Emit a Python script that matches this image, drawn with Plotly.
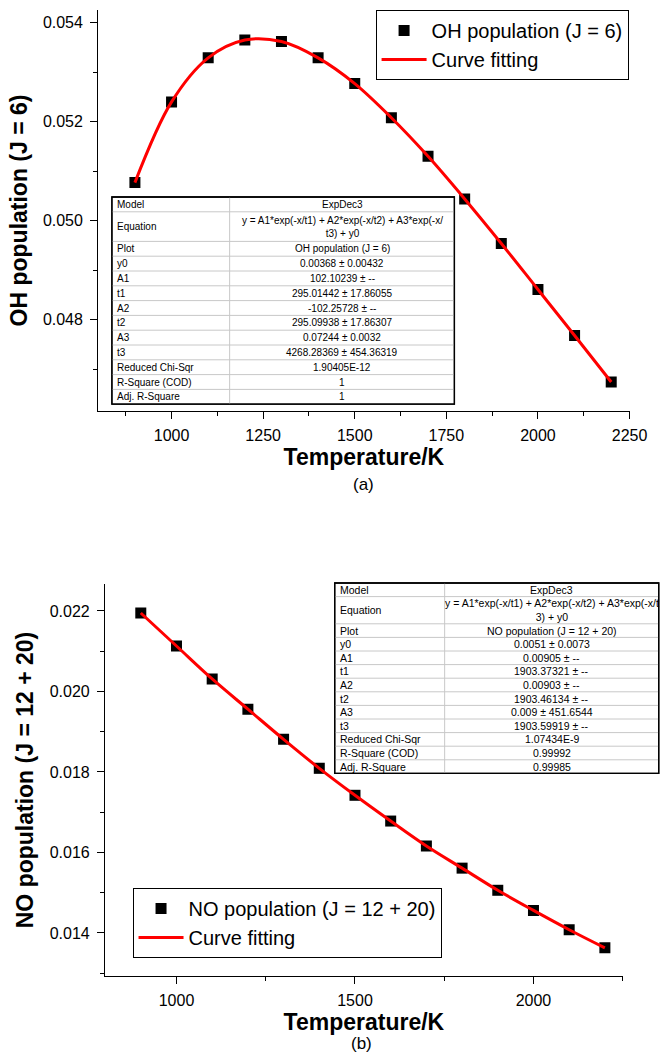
import plotly.graph_objects as go

# ---------------- data ----------------
temperature = [900, 1000, 1100, 1200, 1300, 1400, 1500, 1600, 1700, 1800, 1900, 2000, 2100, 2200]

oh_population = [0.05077, 0.05240, 0.05329, 0.05365, 0.05362, 0.05329, 0.05277,
                 0.05208, 0.05130, 0.05044, 0.04954, 0.04861, 0.04768, 0.04674]

no_population = [0.02195, 0.02113, 0.02031, 0.01956, 0.01881, 0.01809, 0.01742,
                 0.01678, 0.01616, 0.01561, 0.01506, 0.01456, 0.01408, 0.01363]

table_labels = ["Model", "Equation", "Plot", "y0", "A1", "t1", "A2", "t2", "A3", "t3",
                "Reduced Chi-Sqr", "R-Square (COD)", "Adj. R-Square"]

oh_table_values = ["ExpDec3",
                   "y = A1*exp(-x/t1) + A2*exp(-x/t2) + A3*exp(-x/<br>t3) + y0",
                   "OH population (J = 6)", "0.00368 ± 0.00432", "102.10239 ± --",
                   "295.01442 ± 17.86055", "-102.25728 ± --", "295.09938 ± 17.86307",
                   "0.07244 ± 0.0032", "4268.28369 ± 454.36319", "1.90405E-12", "1", "1"]

no_table_values = ["ExpDec3",
                   "y = A1*exp(-x/t1) + A2*exp(-x/t2) + A3*exp(-x/t<br>3) + y0",
                   "NO population (J = 12 + 20)", "0.0051 ± 0.0073", "0.00905 ± --",
                   "1903.37321 ± --", "0.00903 ± --", "1903.46134 ± --",
                   "0.009 ± 451.6544", "1903.59919 ± --", "1.07434E-9", "0.99992", "0.99985"]

# ---------------- layout helpers ----------------
W, H = 667, 1055
FONT = "Liberation Sans, Arial, sans-serif"


def px(x):
    return x / W


def py(y):
    return 1 - y / H


fig = go.Figure()

# panel (a): OH
fig.add_trace(go.Scatter(x=temperature, y=oh_population, mode="markers",
                         name="OH population (J = 6)",
                         marker=dict(symbol="square", size=11, color="black"),
                         xaxis="x", yaxis="y", legend="legend"))
fig.add_trace(go.Scatter(x=temperature, y=oh_population, mode="lines",
                         name="Curve fitting",
                         line=dict(color="#ff0000", width=3, shape="spline", smoothing=1),
                         xaxis="x", yaxis="y", legend="legend"))

# panel (b): NO
fig.add_trace(go.Scatter(x=temperature, y=no_population, mode="markers",
                         name="NO population (J = 12 + 20)",
                         marker=dict(symbol="square", size=11, color="black"),
                         xaxis="x2", yaxis="y2", legend="legend2"))
fig.add_trace(go.Scatter(x=temperature, y=no_population, mode="lines",
                         name="Curve fitting",
                         line=dict(color="#ff0000", width=3, shape="spline", smoothing=1),
                         xaxis="x2", yaxis="y2", legend="legend2"))

axis_common = dict(showline=True, linecolor="black", linewidth=1.3, mirror=False,
                   showgrid=False, zeroline=False, ticks="outside", ticklen=7,
                   tickwidth=1.2, tickcolor="black",
                   tickfont=dict(family=FONT, size=16, color="black"))

minor_common = dict(ticklen=4, ticks="outside", tickcolor="black", tickwidth=1.2, showgrid=False)

title_font = dict(family=FONT, size=23, color="black", weight="bold")
legend_font = dict(family=FONT, size=20, color="black")

fig.update_layout(
    width=W, height=H, autosize=False,
    margin=dict(l=0, r=0, t=0, b=0),
    paper_bgcolor="white", plot_bgcolor="white",
    font=dict(family=FONT, color="black"),
    showlegend=True,
    xaxis=dict(domain=[px(101), px(647)], range=[800, 2250], tick0=1000, dtick=250,
               anchor="y", ticklabelstandoff=3,
               minor=dict(dtick=125, tick0=1000, **minor_common),
               title=dict(text="Temperature/K", font=title_font, standoff=3),
               **axis_common),
    yaxis=dict(domain=[py(411), py(10)], range=[0.046155, 0.054257], tick0=0.046, dtick=0.002,
               tickformat=".3f", anchor="x", ticklabelstandoff=4,
               minor=dict(dtick=0.001, tick0=0.046, **minor_common),
               title=dict(text="OH population (J = 6)", font=title_font, standoff=8),
               **axis_common),
    xaxis2=dict(domain=[px(108), px(640)], range=[800, 2250], tick0=1000, dtick=500,
                anchor="y2", ticklabelstandoff=3,
                minor=dict(dtick=250, tick0=1000, **minor_common),
                title=dict(text="Temperature/K", font=title_font, standoff=2),
                **axis_common),
    yaxis2=dict(domain=[py(976), py(584)], range=[0.01293, 0.02267], tick0=0.014, dtick=0.002,
                tickformat=".3f", anchor="x2", ticklabelstandoff=4,
                minor=dict(dtick=0.001, tick0=0.014, **minor_common),
                title=dict(text="NO population (J = 12 + 20)", font=title_font, standoff=9),
                **axis_common),
    legend=dict(x=px(516), y=py(45), xanchor="center", yanchor="middle",
                bordercolor="black", borderwidth=1, bgcolor="white", itemwidth=45,
                font=legend_font, tracegroupgap=0),
    legend2=dict(x=px(295), y=py(923), xanchor="center", yanchor="middle",
                 bordercolor="black", borderwidth=1, bgcolor="white", itemwidth=45,
                 font=legend_font, tracegroupgap=0),
)

# panel captions
fig.add_annotation(text="(a)", x=px(374), y=py(484), xref="paper", yref="paper",
                   showarrow=False, font=dict(family=FONT, size=17, color="black"))
fig.add_annotation(text="(b)", x=px(372), y=0, xref="paper", yref="paper",
                   xanchor="center", yanchor="bottom", showarrow=False,
                   font=dict(family=FONT, size=17, color="black"))


def add_fit_table(labels, values, left, divider, right, top, unit, font_size):
    """Fit-report table drawn with shapes and annotations (pixel geometry)."""
    heights = [2 if lab == "Equation" else 1 for lab in labels]
    bottom = top + unit * sum(heights)
    fig.add_shape(type="rect", xref="paper", yref="paper",
                  x0=px(left), x1=px(right), y0=py(bottom), y1=py(top),
                  fillcolor="white", line=dict(color="black", width=1.3), layer="above")
    y = top
    for i, (lab, val, h) in enumerate(zip(labels, values, heights)):
        y_next = y + unit * h
        if i < len(labels) - 1:
            fig.add_shape(type="line", xref="paper", yref="paper",
                          x0=px(left), x1=px(right), y0=py(y_next), y1=py(y_next),
                          line=dict(color="#c8c8c8", width=1), layer="above")
        mid = (y + y_next) / 2
        fig.add_annotation(text=lab, x=px(left + 3), y=py(mid), xref="paper", yref="paper",
                           xanchor="left", yanchor="middle", showarrow=False,
                           font=dict(family=FONT, size=font_size, color="black"))
        fig.add_annotation(text=val, x=px((divider + right) / 2), y=py(mid),
                           xref="paper", yref="paper", xanchor="center", yanchor="middle",
                           showarrow=False,
                           font=dict(family=FONT, size=font_size, color="black"))
        y = y_next
    fig.add_shape(type="line", xref="paper", yref="paper",
                  x0=px(divider), x1=px(divider), y0=py(bottom), y1=py(top),
                  line=dict(color="#c8c8c8", width=1), layer="above")
    # outer frame on top of the inner rules
    fig.add_shape(type="rect", xref="paper", yref="paper",
                  x0=px(left), x1=px(right), y0=py(bottom), y1=py(top),
                  line=dict(color="black", width=1.3), layer="above")


add_fit_table(table_labels, oh_table_values, 115, 236, 467, 197, 14.8, 10)
add_fit_table(table_labels, no_table_values, 344, 457, 677, 583, 13.6, 10.5)

fig.write_html("out.html")
